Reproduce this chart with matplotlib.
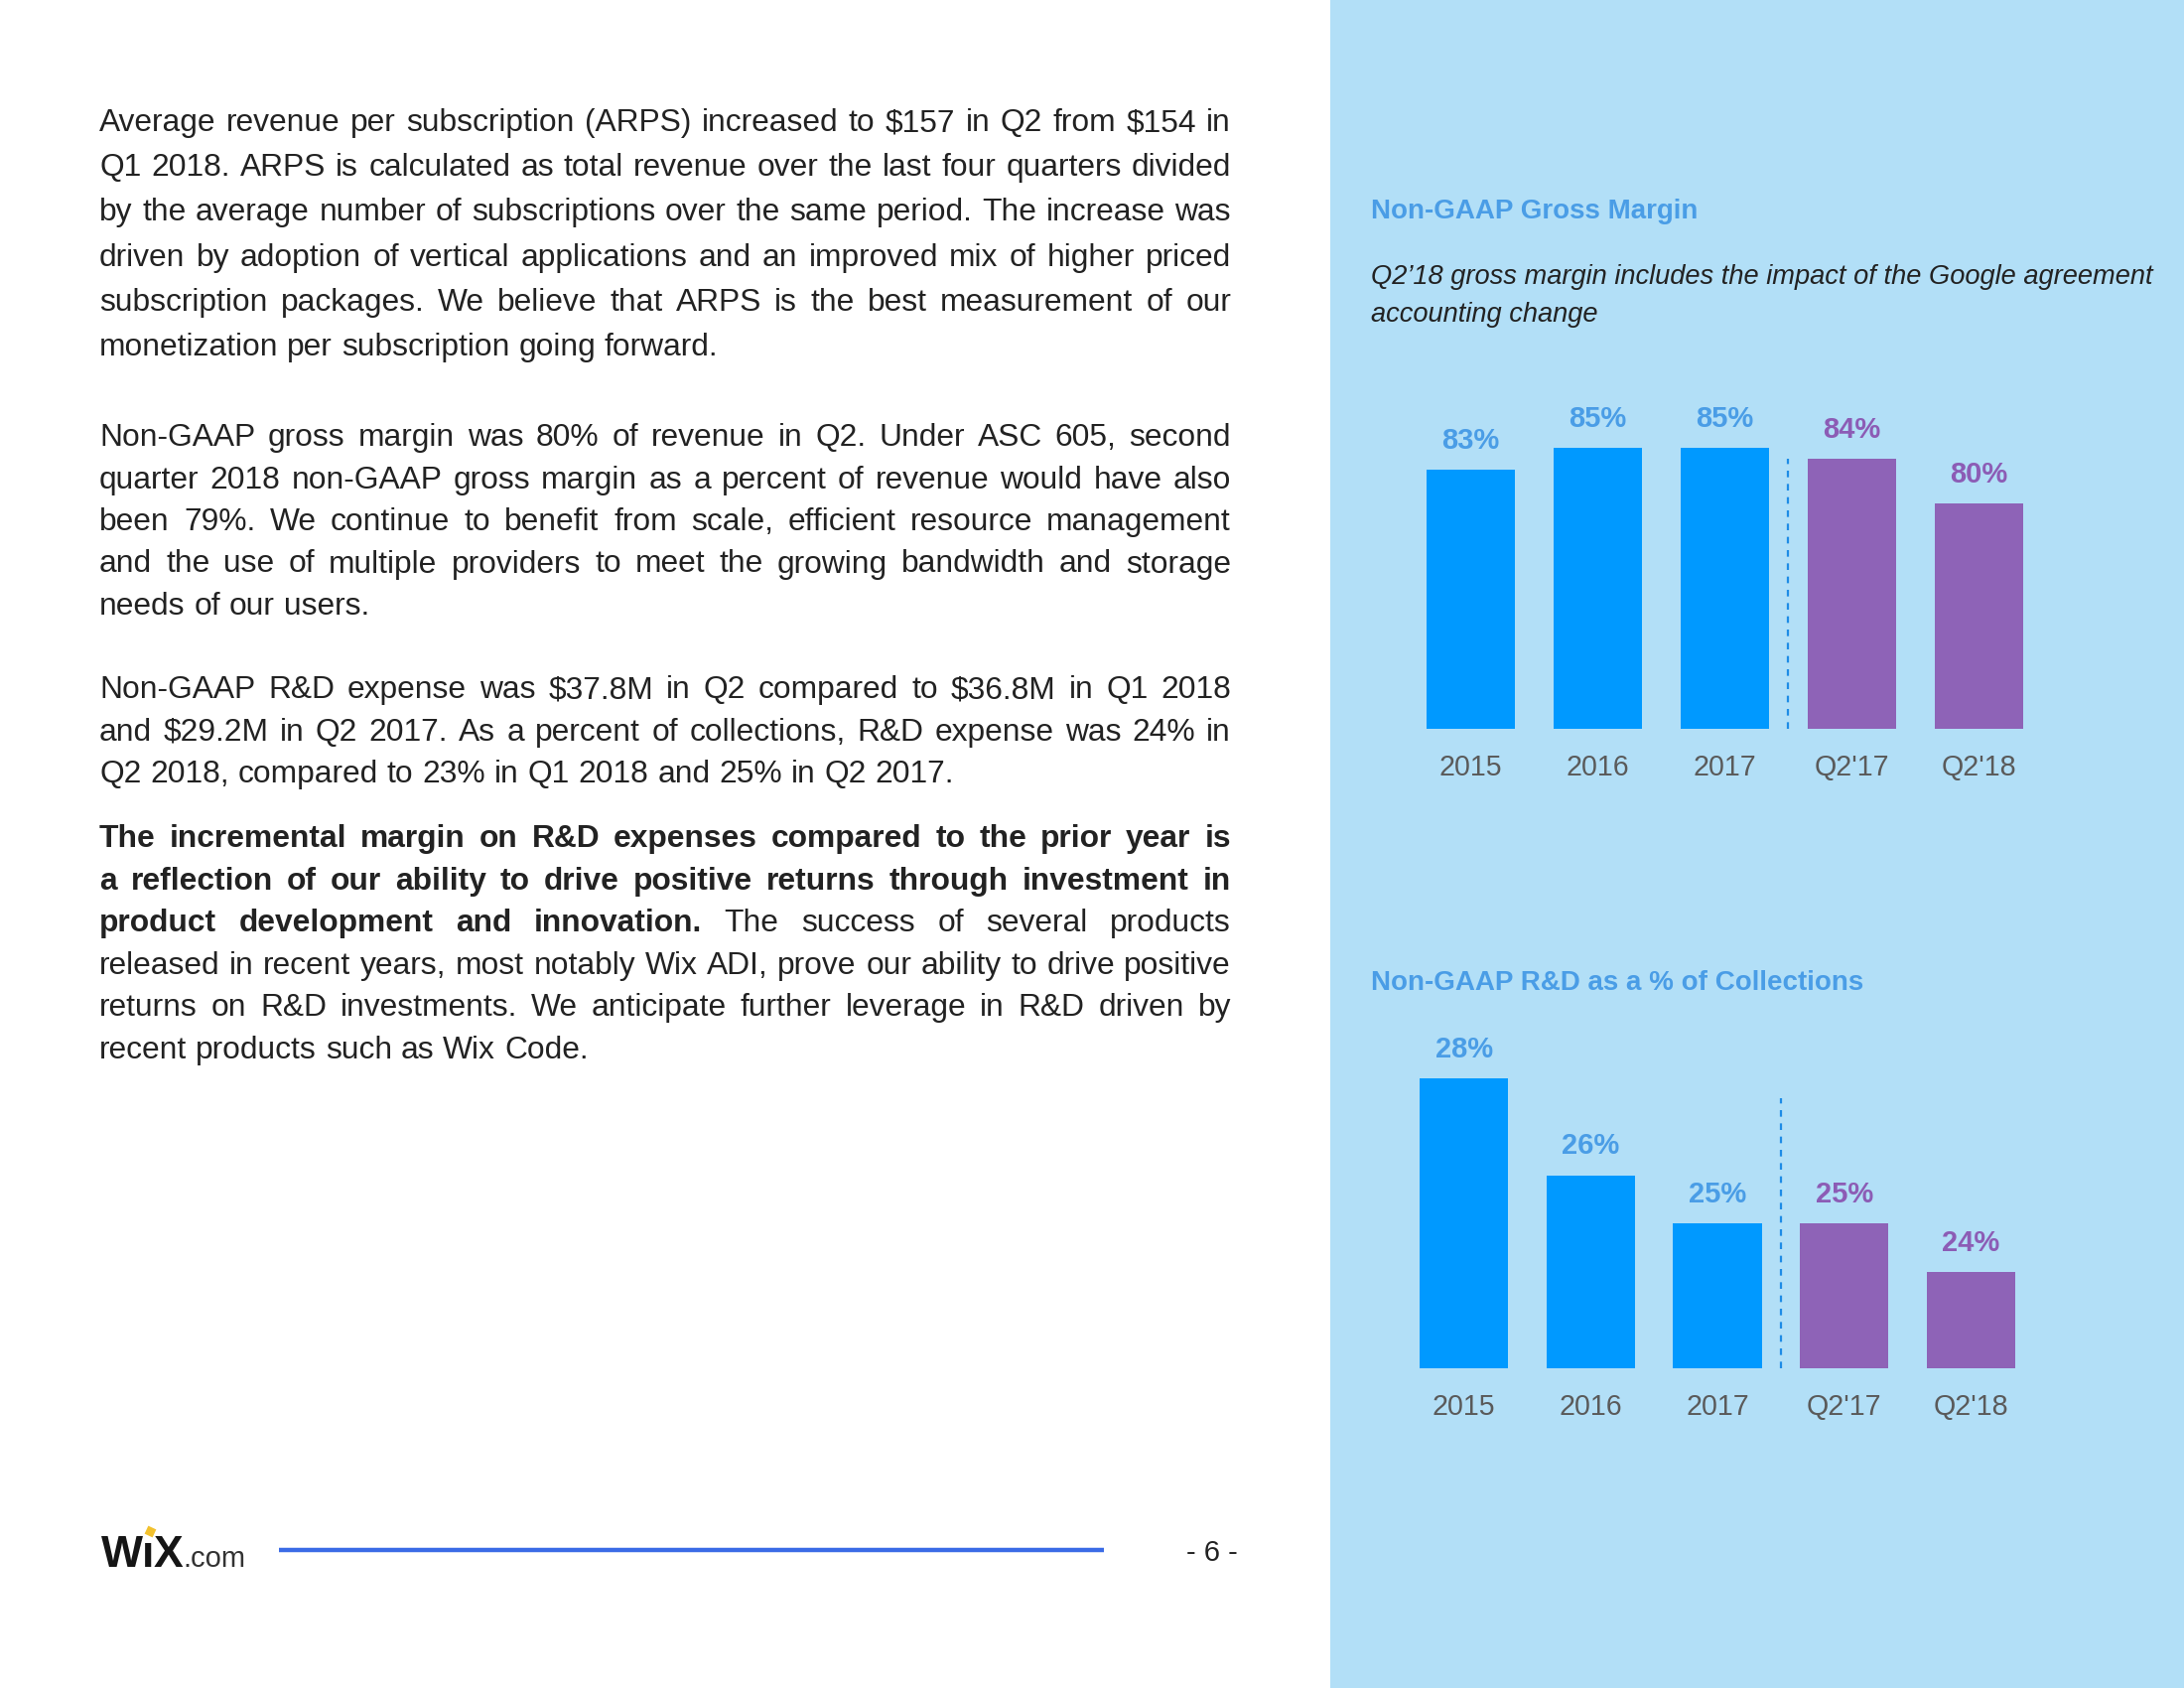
import matplotlib
matplotlib.use("Agg")
import matplotlib.pyplot as plt
from matplotlib.font_manager import FontProperties
from matplotlib.patches import Rectangle

# ---------------- data ----------------
categories = ["2015", "2016", "2017", "Q2'17", "Q2'18"]
gross_margin = [83, 85, 85, 84, 80]
rd_pct = [28, 26, 25, 25, 24]
gm_title = "Non-GAAP Gross Margin"
gm_note = ["Q2\u201918 gross margin includes the impact of the Google agreement",
           "accounting change"]
rd_title = "Non-GAAP R&D as a % of Collections"
page_number = "- 6 -"

para1 = [
    "Average revenue per subscription (ARPS) increased to $157 in Q2 from $154 in",
    "Q1 2018.  ARPS is calculated as total revenue over the last four quarters divided",
    "by the average number of subscriptions over the same period. The increase was",
    "driven by adoption of vertical applications and an improved mix of higher priced",
    "subscription packages. We believe that ARPS is the best measurement of our",
    "monetization per subscription going forward.",
]
para2 = [
    "Non-GAAP gross margin was 80% of revenue in Q2. Under ASC 605, second",
    "quarter 2018 non-GAAP gross margin as a percent of revenue would have also",
    "been 79%. We continue to benefit from scale, efficient resource management",
    "and the use of multiple providers to meet the growing bandwidth and storage",
    "needs of our users.",
]
para3 = [
    "Non-GAAP R&D expense was $37.8M in Q2 compared to $36.8M in Q1 2018",
    "and $29.2M in Q2 2017. As a percent of collections, R&D expense was 24% in",
    "Q2 2018, compared to 23% in Q1 2018 and 25% in Q2 2017.",
]
para4 = [
    [("The incremental margin on R&D expenses compared to the prior year is", True)],
    [("a reflection of our ability to drive positive returns through investment in", True)],
    [("product development and innovation.", True), ("The success of several products", False)],
    [("released in recent years, most notably Wix ADI, prove our ability to drive positive", False)],
    [("returns on R&D investments. We anticipate further leverage in R&D driven by", False)],
    [("recent products such as Wix Code.", False)],
]

# ---------------- style ----------------
PANEL = "#B2DFF7"
BLUE = "#0099FF"
PURPLE = "#8E63B7"
LBL_BLUE = "#4A9DE6"
LBL_PURPLE = "#8C5CB5"
TICK_GRAY = "#5A5A5A"
TEXT = "#222222"
FONT = "Liberation Sans"
plt.rcParams["font.family"] = [FONT, "DejaVu Sans"]

W, H = 2200, 1700
fig = plt.figure(figsize=(11, 8.5), dpi=200)
bg = fig.add_axes([0, 0, 1, 1])
bg.set_xlim(0, W)
bg.set_ylim(H, 0)
bg.axis("off")
bg.add_patch(Rectangle((1340, 0), W - 1340, H, color=PANEL, zorder=0, lw=0))

renderer = fig.canvas.get_renderer()


def twidth(s, fp):
    w, h, d = renderer.get_text_width_height_descent(s, fp, ismath=False)
    return w


def fps(size):
    return {False: FontProperties(family=FONT, size=size),
            True: FontProperties(family=FONT, size=size, weight="bold")}


def words_of(segs):
    out = []
    for text, bold in segs:
        for w in text.split():
            out.append((w, bold))
    return out


X0, X1 = 100, 1240
blocks = [
    ([[(l, False)] for l in para1], 121, 45.2),
    ([[(l, False)] for l in para2], 438, 42.5),
    ([[(l, False)] for l in para3], 692, 42.5),
    (para4, 842, 42.6),
]

base = 11.0
f = fps(base)
ratio = 0
for lines, y0, dy in blocks:
    for segs in lines[:-1]:
        ws = words_of(segs)
        nat = sum(twidth(w, f[b]) for w, b in ws) + (len(ws) - 1) * (twidth("a a", f[False]) - twidth("aa", f[False]))
        ratio = max(ratio, nat / (X1 - X0))
size = base * 0.99 / ratio
f = fps(size)
space = twidth("a a", f[False]) - twidth("aa", f[False])

for lines, y0, dy in blocks:
    for i, segs in enumerate(lines):
        y = y0 + i * dy + 11
        ws = words_of(segs)
        widths = [twidth(w, f[b]) for w, b in ws]
        last = i == len(lines) - 1
        gap = space if last else (X1 - X0 - sum(widths)) / (len(ws) - 1)
        x = X0
        for (w, b), wd in zip(ws, widths):
            bg.text(x, y, w, fontproperties=f[b], color=TEXT, ha="left", va="baseline")
            x += wd + gap

# ---------------- footer ----------------
logo_fp = FontProperties(family=FONT, size=16, weight="bold")
x = 102
base_y = 1578
for ch in ["W", "\u0131", "X"]:
    bg.text(x, base_y, ch, fontproperties=logo_fp, color="#151515", ha="left", va="baseline")
    if ch == "\u0131":
        bg.plot([x + twidth(ch, logo_fp) / 2 + 2], [base_y - 36], marker=(4, 0, 20), ms=4.5,
                color="#F2C12E", mew=0)
    x += twidth(ch, logo_fp) - 1
bg.text(x + 1, base_y, ".com", fontsize=10.5, color="#333333", ha="left", va="baseline")
bg.plot([281, 1112], [1561, 1561], color="#3B6BE6", lw=1.6, solid_capstyle="butt")
bg.text(1221, 1564, page_number, fontsize=10.5, color="#222222", ha="center", va="center")

# ---------------- right panel titles ----------------
bg.text(1381, 213, gm_title, fontsize=10, fontweight="bold", color=LBL_BLUE, ha="left", va="center")
for i, line in enumerate(gm_note):
    bg.text(1381, 279 + i * 38, line, fontsize=9.8, style="italic", color=TEXT, ha="left", va="center")
bg.text(1381, 990, rd_title, fontsize=10, fontweight="bold", color=LBL_BLUE, ha="left", va="center")


def px_rect(left, top, right, bottom):
    return [left / W, (H - bottom) / H, (right - left) / W, (bottom - top) / H]


def bar_chart(rect, values, ylim, vline_frac):
    ax = fig.add_axes(rect)
    ax.set_facecolor("none")
    xs = list(range(len(values)))
    colors = [BLUE] * 3 + [PURPLE] * 2
    lcolors = [LBL_BLUE] * 3 + [LBL_PURPLE] * 2
    ax.bar(xs, values, width=0.7, color=colors, zorder=2)
    for x, v, c in zip(xs, values, lcolors):
        ax.annotate(f"{v}%", (x, v), xytext=(0, 10.5), textcoords="offset points",
                    ha="center", va="center", fontsize=10.5, fontweight="bold", color=c)
    ax.axvline(2.5, ymin=0, ymax=vline_frac, color="#1E8CE6", lw=0.8, ls=(0, (3, 3)))
    ax.set_xlim(-0.7, len(values) - 0.3)
    ax.set_ylim(*ylim)
    ax.set_xticks(xs, categories)
    ax.set_yticks([])
    ax.tick_params(axis="x", length=0, pad=9, labelsize=10.3, labelcolor=TICK_GRAY)
    for s in ax.spines.values():
        s.set_visible(False)
    return ax


bar_chart(px_rect(1392, 394.6, 2083, 734), gross_margin, (59.74, 90), 0.80)
bar_chart(px_rect(1385.2, 989, 2074.8, 1378), rd_pct, (22, 30), 0.70)

fig.savefig("out.png", dpi=200)
